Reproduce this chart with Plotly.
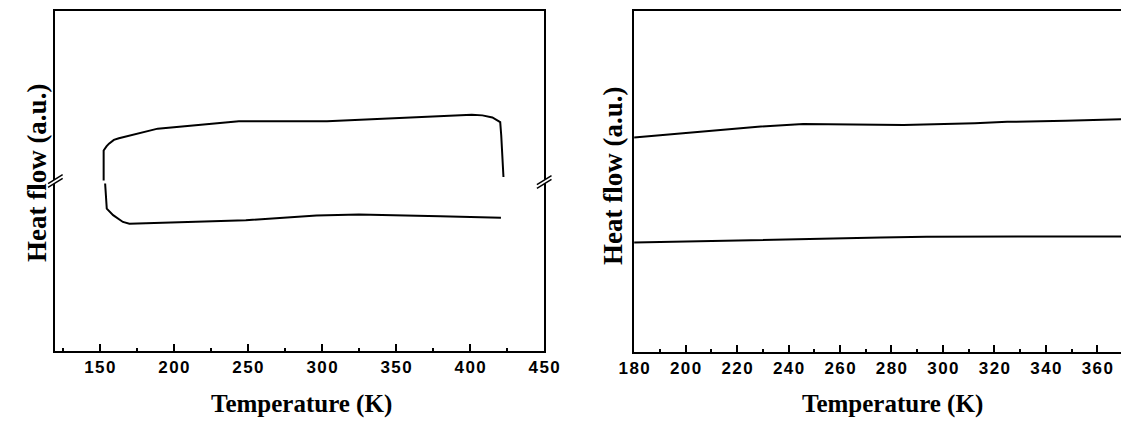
import plotly.graph_objects as go

# ---------------- data ----------------
# Left panel (loop): upper branch and lower branch, heat flow in arbitrary units
left_upper_T = [152.6, 152.6, 154.5, 156.2, 159.5, 162.9, 189.1, 243.9, 303.4, 379.7, 401.1, 408.3, 415.0, 420.3, 421.0, 422.5]
left_upper_H = [5.01, 5.89, 6.01, 6.09, 6.20, 6.25, 6.53, 6.75, 6.75, 6.89, 6.94, 6.92, 6.86, 6.72, 6.33, 5.11]
left_lower_T = [153.6, 154.7, 159.0, 165.6, 170.0, 185.3, 248.6, 296.3, 324.9, 379.7, 420.8]
left_lower_H = [4.92, 4.18, 3.99, 3.79, 3.74, 3.76, 3.84, 3.98, 4.01, 3.96, 3.91]

# Right panel: two nearly flat traces
right_upper_T = [180.0, 228.1, 245.7, 275.9, 284.7, 312.4, 325.0, 347.7, 369.2]
right_upper_H = [6.28, 6.60, 6.68, 6.65, 6.65, 6.70, 6.74, 6.77, 6.82]
right_lower_T = [180.0, 215.5, 240.7, 275.9, 293.6, 369.2]
right_lower_H = [3.20, 3.26, 3.30, 3.35, 3.37, 3.38]

left_ticks = [150, 200, 250, 300, 350, 400, 450]
right_ticks = [180, 200, 220, 240, 260, 280, 300, 320, 340, 360]

x_title = "Temperature (K)"
y_title = "Heat flow (a.u.)"

# ---------------- figure ----------------
W, H = 1137, 421
SP = "\u200a"

def spaced(v):
    return SP.join(str(v))

fig = go.Figure()
line = dict(color="black", width=2)
fig.add_trace(go.Scatter(x=left_upper_T, y=left_upper_H, mode="lines", line=line, xaxis="x", yaxis="y"))
fig.add_trace(go.Scatter(x=left_lower_T, y=left_lower_H, mode="lines", line=line, xaxis="x", yaxis="y"))
fig.add_trace(go.Scatter(x=right_upper_T, y=right_upper_H, mode="lines", line=line, xaxis="x2", yaxis="y2"))
fig.add_trace(go.Scatter(x=right_lower_T, y=right_lower_H, mode="lines", line=line, xaxis="x2", yaxis="y2"))

tickfont = dict(family="Liberation Sans, Arial", size=17, color="black", weight="bold")

def px2x(p):
    return p / W

def px2y(p):
    return 1 - p / H

common_x = dict(showline=True, linecolor="black", linewidth=1.5, ticks="inside", ticklen=7,
                tickwidth=1.5, tickcolor="black", showgrid=False, zeroline=False,
                tickfont=tickfont, tickmode="array")
common_y = dict(showline=True, linecolor="black", linewidth=1.5, ticks="", showticklabels=False,
                showgrid=False, zeroline=False, range=[0, 10])

fig.update_layout(
    width=W, height=H, margin=dict(l=0, r=0, t=0, b=0),
    paper_bgcolor="white", plot_bgcolor="white", showlegend=False,
    xaxis=dict(common_x, domain=[px2x(40.5), px2x(543.5)], range=[120, 450], mirror=True,
               tickvals=left_ticks, ticktext=[spaced(v) for v in left_ticks],
               minor=dict(ticks="inside", ticklen=3, tickwidth=1.5, tickcolor="black", dtick=25, tick0=0)),
    yaxis=dict(common_y, domain=[px2y(351), px2y(10.5)], mirror=True),
    xaxis2=dict(common_x, domain=[px2x(636), 1.0], range=[180, 369.2], mirror=True, anchor="y2",
                tickvals=right_ticks, ticktext=[spaced(v) for v in right_ticks],
                minor=dict(ticks="inside", ticklen=3, tickwidth=1.5, tickcolor="black", dtick=10, tick0=0)),
    yaxis2=dict(common_y, domain=[px2y(351.7), px2y(10.7)], mirror=False, anchor="x2"),
)

titlefont = dict(family="Liberation Serif, Times New Roman", size=25, color="black", weight="bold")
ytitlefont = dict(titlefont, size=27)
fig.add_annotation(text=x_title, x=px2x(293.3), y=px2y(404), xref="paper", yref="paper",
                   xanchor="center", yanchor="middle", showarrow=False, font=titlefont)
fig.add_annotation(text=x_title, x=px2x(901.8), y=px2y(404), xref="paper", yref="paper",
                   xanchor="center", yanchor="middle", showarrow=False, font=titlefont)
fig.add_annotation(text=y_title, x=px2x(21.7), y=px2y(173), xref="paper", yref="paper",
                   xanchor="center", yanchor="middle", showarrow=False, font=ytitlefont, textangle=-90)
fig.add_annotation(text=y_title, x=px2x(614.3), y=px2y(176), xref="paper", yref="paper",
                   xanchor="center", yanchor="middle", showarrow=False, font=ytitlefont, textangle=-90)

# axis-break marks on left panel's vertical axes
def add_break(cx, cy):
    dx, dy, sep = 7.5, 4.5, 1.9
    fig.add_shape(type="path", xref="paper", yref="paper",
                  path=(f"M{px2x(cx-dx)},{px2y(cy+dy-sep)} L{px2x(cx+dx)},{px2y(cy-dy-sep)} "
                        f"L{px2x(cx+dx)},{px2y(cy-dy+sep)} L{px2x(cx-dx)},{px2y(cy+dy+sep)} Z"),
                  fillcolor="white", line=dict(width=0), layer="above")
    for s in (-sep, sep):
        fig.add_shape(type="line", xref="paper", yref="paper",
                      x0=px2x(cx-dx), y0=px2y(cy+dy+s), x1=px2x(cx+dx), y1=px2y(cy-dy+s),
                      line=dict(color="black", width=1.5), layer="above")

add_break(40.5, 181)
add_break(543.5, 182)

fig.write_html("out.html", config={"displayModeBar": False},
               post_script="document.body.style.margin='0';document.body.style.overflow='hidden';")
